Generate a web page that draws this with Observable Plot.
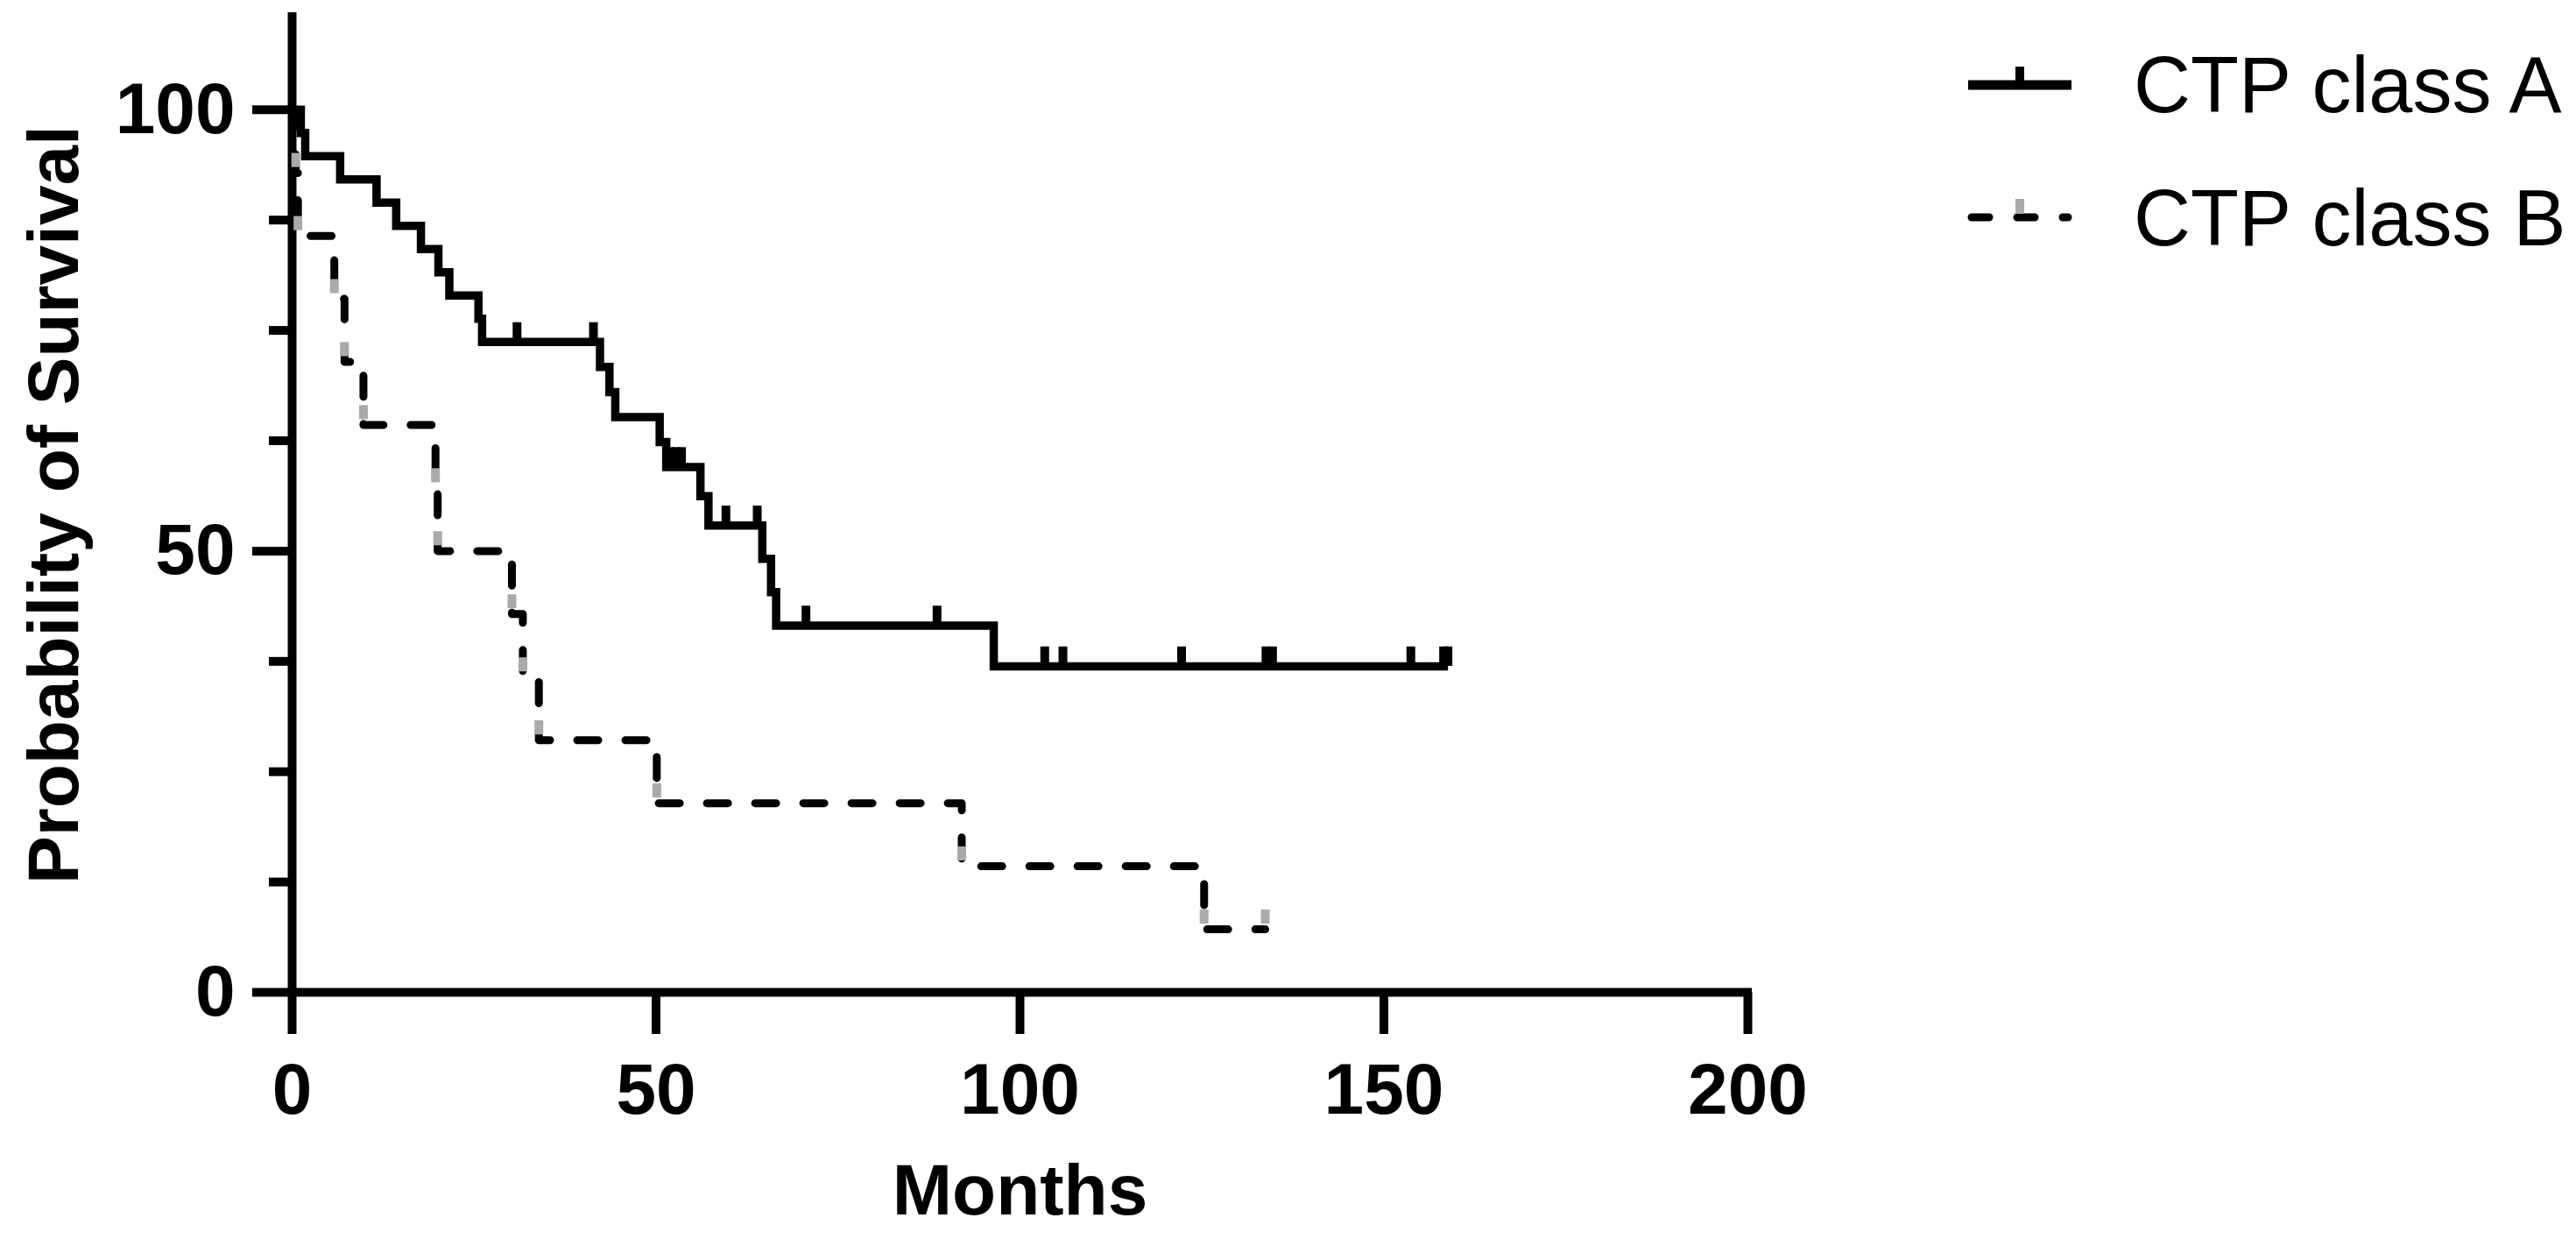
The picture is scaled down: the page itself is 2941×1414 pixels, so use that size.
<!DOCTYPE html>
<html>
<head>
<meta charset="utf-8">
<script src="https://cdn.jsdelivr.net/npm/d3@7"></script>
<script src="https://cdn.jsdelivr.net/npm/@observablehq/plot@0.6"></script>
<style>
  html, body { margin: 0; padding: 0; background: #ffffff; }
  #wrap { position: relative; width: 2941px; height: 1414px; overflow: hidden; background: #ffffff; }
  #chart { position: absolute; left: 0; top: 0; }
  #legend { position: absolute; left: 2200px; top: 0; }
</style>
</head>
<body>
<div id="wrap">
  <div id="chart"></div>
  <svg id="legend"></svg>
</div>
<script>
// ---------------- data ----------------
const xTicks = [0, 50, 100, 150, 200];
const yMajorTicks = [0, 50, 100];
const yMinorTicks = [12.5, 25, 37.5, 62.5, 75, 87.5];
const seriesNames = ["CTP class A", "CTP class B"];

// CTP class A: Kaplan-Meier steps (time in months, survival %)
const classATime = [0, 1.2, 1.8, 6.6, 11.6, 14.3, 17.7, 20.1, 21.6, 25.6, 26.1, 42.3, 43.6, 44.4, 50.5, 51.4, 56.1, 57.2, 64.6, 65.8, 66.5, 96.4, 158.8];
const classASurv = [100, 97.37, 94.74, 92.11, 89.47, 86.84, 84.21, 81.58, 78.95, 76.32, 73.68, 70.85, 68.01, 65.18, 62.35, 59.52, 56.21, 52.90, 49.12, 45.34, 41.56, 36.94, 36.94];
// CTP class A: censored observations
const classACensorTime = [30.9, 41.4, 52.0, 52.8, 53.5, 59.6, 63.9, 70.6, 88.6, 103.4, 105.9, 122.2, 133.8, 134.7, 153.7, 158.2, 158.8];
const classACensorSurv = [73.68, 73.68, 59.52, 59.52, 59.52, 52.90, 52.90, 41.56, 41.56, 36.94, 36.94, 36.94, 36.94, 36.94, 36.94, 36.94, 36.94];

// CTP class B: Kaplan-Meier steps
const classBTime = [0, 0.5, 0.8, 5.8, 7.2, 9.8, 19.7, 20.0, 30.2, 31.7, 33.9, 50.1, 92.0, 125.3, 133.7];
const classBSurv = [100, 92.86, 85.71, 78.57, 71.43, 64.29, 57.14, 50.00, 42.86, 35.71, 28.57, 21.43, 14.29, 7.14, 7.14];
// CTP class B: symbol at every observation (events and the final censored one)
const classBMarkTime = [0.5, 0.8, 5.8, 7.2, 9.8, 19.7, 20.0, 30.2, 31.7, 33.9, 50.1, 92.0, 125.3, 133.7];
const classBMarkSurv = [92.86, 85.71, 78.57, 71.43, 64.29, 57.14, 50.00, 42.86, 35.71, 28.57, 21.43, 14.29, 7.14, 7.14];

// ---------------- build tables ----------------
const A = classATime.map((t, i) => ({t, s: classASurv[i]}));
const Acens = classACensorTime.map((t, i) => ({t, s: classACensorSurv[i]}));
const B = classBTime.map((t, i) => ({t, s: classBSurv[i]}));
const Bmarks = classBMarkTime.map((t, i) => ({t, s: classBMarkSurv[i]}));

const TICK_UP = 2.2;      // height of censor tick, in survival units
const GRAY = "#aaaaaa";
const FONT = "'Liberation Sans', Arial, Helvetica, sans-serif";

const chart = Plot.plot({
  width: 2200,
  height: 1414,
  marginLeft: 333,
  marginRight: 205,
  marginTop: 19,
  marginBottom: 282,
  x: {domain: [0, 200]},
  y: {domain: [0, 110.5]},
  style: {fontFamily: FONT, fontWeight: "bold", fontSize: "82px", background: "#ffffff", color: "#000000"},
  marks: [
    Plot.axisY(yMinorTicks, {anchor: "left", tickSize: 26, strokeWidth: 10, tickFormat: () => "", label: null}),
    Plot.axisY(yMajorTicks, {
      anchor: "left", tickSize: 45, tickPadding: 20, strokeWidth: 10, fontSize: 82,
      label: "Probability of Survival", labelAnchor: "center", labelArrow: "none", labelOffset: 303
    }),
    Plot.axisX(xTicks, {
      anchor: "bottom", tickSize: 48, tickPadding: 32, strokeWidth: 10, fontSize: 82,
      label: "Months", labelAnchor: "center", labelArrow: "none", labelOffset: 253
    }),
    Plot.ruleX([0], {strokeWidth: 10, strokeLinecap: "square"}),
    Plot.ruleY([0], {strokeWidth: 10, strokeLinecap: "square"}),
    Plot.line(B, {x: "t", y: "s", curve: "step-after", stroke: "#000", strokeWidth: 9,
      strokeDasharray: "24,31", strokeLinecap: "round", strokeLinejoin: "round"}),
    Plot.ruleX(Bmarks, {x: "t", y1: d => d.s + 0.6, y2: d => d.s + TICK_UP, stroke: GRAY, strokeWidth: 10}),
    Plot.line(A, {x: "t", y: "s", curve: "step-after", stroke: "#000", strokeWidth: 9.5,
      strokeLinejoin: "miter", strokeMiterlimit: 10, strokeLinecap: "butt"}),
    Plot.ruleX(Acens, {x: "t", y1: "s", y2: d => d.s + TICK_UP, stroke: "#000", strokeWidth: 10})
  ]
});
document.getElementById("chart").appendChild(chart);

// ---------------- legend ----------------
const leg = d3.select("#legend").attr("width", 741).attr("height", 330);
// row A
leg.append("line").attr("x1", 47).attr("x2", 165).attr("y1", 97).attr("y2", 97)
  .attr("stroke", "#000").attr("stroke-width", 11);
leg.append("line").attr("x1", 106).attr("x2", 106).attr("y1", 97).attr("y2", 76)
  .attr("stroke", "#000").attr("stroke-width", 10);
leg.append("text").attr("x", 236).attr("y", 128).text(seriesNames[0])
  .attr("font-family", FONT).attr("font-size", 90).attr("fill", "#000");
// row B
leg.append("line").attr("x1", 51).attr("x2", 161).attr("y1", 248).attr("y2", 248)
  .attr("stroke", "#000").attr("stroke-width", 9).attr("stroke-dasharray", "20,32").attr("stroke-linecap", "round");
leg.append("line").attr("x1", 106).attr("x2", 106).attr("y1", 244).attr("y2", 227)
  .attr("stroke", GRAY).attr("stroke-width", 10);
leg.append("text").attr("x", 236).attr("y", 280).text(seriesNames[1])
  .attr("font-family", FONT).attr("font-size", 90).attr("fill", "#000");
</script>
</body>
</html>
